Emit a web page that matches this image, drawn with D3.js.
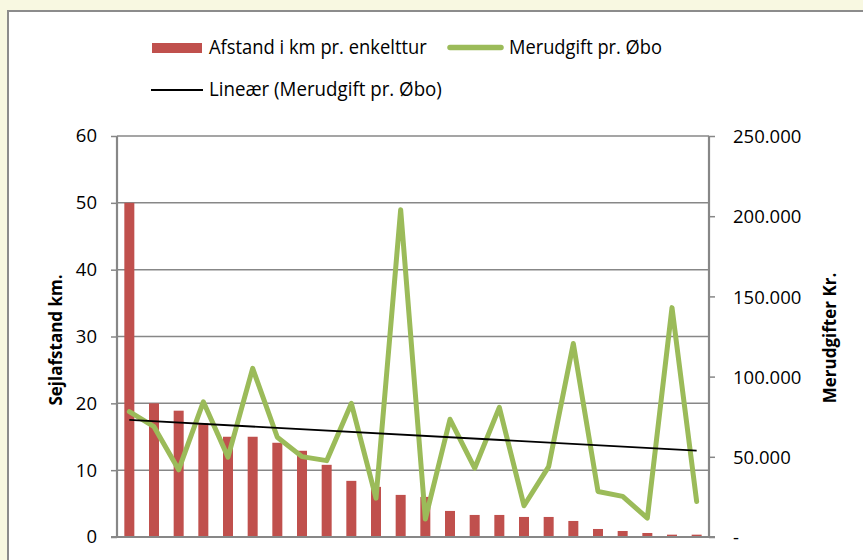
<!DOCTYPE html>
<html>
<head>
<meta charset="utf-8">
<script src="https://cdn.jsdelivr.net/npm/d3@7"></script>
<style>
  body { margin:0; background:#f8f8e1; }
  svg { display:block; }
  .tick text { font-family:"Open Sans", sans-serif; font-size:18.5px; fill:#000; }
  .legend text { font-family:"Open Sans", sans-serif; font-size:20px; }
  .label { font-family:"Open Sans", sans-serif; font-size:17px; font-weight:bold; }
</style>
</head>
<body>
<svg id="chart"></svg>
<script>
// categories 1..24 (no labels shown on x axis)
var cats = d3.range(1, 25)
var afstand = [50, 20, 18.9, 17, 15, 15, 14.1, 12.9, 10.8, 8.4, 7.5, 6.3,
               6.0, 3.9, 3.3, 3.3, 3.0, 3.0, 2.4, 1.2, 0.9, 0.6, 0.35, 0.35]
var merudgift = [78100, 68800, 41900, 84300, 49800, 105100, 62200, 50100, 47600, 83300, 24200, 204000,
                 11200, 73400, 42900, 80800, 19500, 43900, 120600, 28400, 25300, 11800, 143000, 22100]
var leftTicks = [0, 10, 20, 30, 40, 50, 60]
var rightTicks = [0, 50000, 100000, 150000, 200000, 250000]
var legendItems = ["Afstand i km pr. enkelttur", "Merudgift pr. Øbo", "Lineær (Merudgift pr. Øbo)"]

var screen = {width:863, height:560}
var margins = {left:117, right:154, top:136, bottom:23}
var graph = {
    width: screen.width - margins.left - margins.right,
    height: screen.height - margins.top - margins.bottom
}

var svg = d3.select("#chart")
    .attr("width", screen.width)
    .attr("height", screen.height)

// white chart area with gray frame
svg.append("rect")
    .attr("x", 8).attr("y", 11)
    .attr("width", 870).attr("height", 570)
    .attr("fill", "#fff")
    .attr("stroke", "#8c8c8c")
    .attr("stroke-width", 2)

var xScale = d3.scaleBand().domain(cats).range([0, graph.width])
var yLeft = d3.scaleLinear().domain([0, 60]).range([graph.height, 0])
var yRight = d3.scaleLinear().domain([0, 250000]).range([graph.height, 0])

var plot = svg.append("g")
    .attr("transform", "translate(" + margins.left + "," + margins.top + ")")

// gridlines
plot.append("g")
    .selectAll("line")
    .data(leftTicks.slice(1))
    .enter().append("line")
    .attr("x1", 0).attr("x2", graph.width)
    .attr("y1", function(d){ return yLeft(d) })
    .attr("y2", function(d){ return yLeft(d) })
    .attr("stroke", "#878787")
    .attr("stroke-width", 1.5)

// bars
var barW = 10
plot.append("g")
    .selectAll("rect")
    .data(afstand)
    .enter().append("rect")
    .attr("x", function(d, i){ return xScale(cats[i]) + xScale.bandwidth()/2 - barW/2 })
    .attr("y", function(d){ return yLeft(d) })
    .attr("width", barW)
    .attr("height", function(d){ return graph.height - yLeft(d) })
    .attr("fill", "#c0504d")

// green line
var lineGen = d3.line()
    .x(function(d, i){ return xScale(cats[i]) + xScale.bandwidth()/2 })
    .y(function(d){ return yRight(d) })
plot.append("path")
    .datum(merudgift)
    .attr("d", lineGen)
    .attr("fill", "none")
    .attr("stroke", "#9bbb59")
    .attr("stroke-width", 5)
    .attr("stroke-linejoin", "round")
    .attr("stroke-linecap", "round")

// linear trend (least squares)
var xs = cats, ys = merudgift
var mx = d3.mean(xs), my = d3.mean(ys)
var slope = d3.sum(xs, function(x, i){ return (x - mx) * (ys[i] - my) }) /
            d3.sum(xs, function(x){ return (x - mx) * (x - mx) })
var icpt = my - slope * mx
var trend = [cats[0], cats[cats.length - 1]].map(function(x){ return {x:x, y:icpt + slope * x} })
plot.append("path")
    .datum(trend)
    .attr("d", d3.line()
        .x(function(d){ return xScale(d.x) + xScale.bandwidth()/2 })
        .y(function(d){ return yRight(d.y) }))
    .attr("fill", "none")
    .attr("stroke", "#000")
    .attr("stroke-width", 1.8)

// axes
var fmt = function(d){ return d === 0 ? "-" : d3.format(",")(d).replace(/,/g, ".") }
var leftAxis = plot.append("g")
    .call(d3.axisLeft(yLeft).tickValues(leftTicks).tickSize(6).tickPadding(14))
var rightAxis = plot.append("g")
    .attr("transform", "translate(" + graph.width + ",0)")
    .call(d3.axisRight(yRight).tickValues(rightTicks).tickSize(6).tickFormat(fmt).tickPadding(18))
var bottomAxis = plot.append("g")
    .attr("transform", "translate(0," + graph.height + ")")
    .call(d3.axisBottom(xScale).tickValues([]).tickSizeOuter(0))
bottomAxis.select(".domain").attr("d", "M-6,0H" + (graph.width + 6))
;[leftAxis, rightAxis, bottomAxis].forEach(function(a){
    a.selectAll(".domain").attr("stroke", "#878787").attr("stroke-width", 2.2)
    a.selectAll(".tick line").attr("stroke", "#878787").attr("stroke-width", 1.5)
})
leftAxis.select(".domain").attr("d", "M0,0V" + graph.height)
rightAxis.select(".domain").attr("d", "M0,0V" + graph.height)
rightAxis.selectAll(".tick text").attr("dy", "0.36em")

// axis titles
svg.append("text")
    .attr("class", "label")
    .attr("text-anchor", "middle")
    .attr("transform", "translate(62,340) rotate(-90)")
    .text("Sejlafstand km.")
svg.append("text")
    .attr("class", "label")
    .attr("text-anchor", "middle")
    .attr("transform", "translate(836,338) rotate(-90)")
    .text("Merudgifter Kr.")

// legend; the original face is a bit narrower, so fit each text to its width
var legend = svg.append("g").attr("class", "legend")
var fitText = function(x, y, width, label)
{
    var g = legend.append("g")
    var t = g.append("text").text(label)
    var w = t.node().getComputedTextLength()
    g.attr("transform", "translate(" + x + "," + y + ") scale(" + (width / w) + ",1)")
}
legend.append("rect").attr("x", 152).attr("y", 43).attr("width", 50).attr("height", 10).attr("fill", "#c0504d")
fitText(209, 54, 218, legendItems[0])
legend.append("line").attr("x1", 450).attr("x2", 501).attr("y1", 47.5).attr("y2", 47.5)
    .attr("stroke", "#9bbb59").attr("stroke-width", 5.5).attr("stroke-linecap", "round")
fitText(509, 54, 153, legendItems[1])
legend.append("line").attr("x1", 151).attr("x2", 203).attr("y1", 90).attr("y2", 90)
    .attr("stroke", "#000").attr("stroke-width", 1.8)
fitText(209, 96, 233, legendItems[2])
</script>
</body>
</html>
